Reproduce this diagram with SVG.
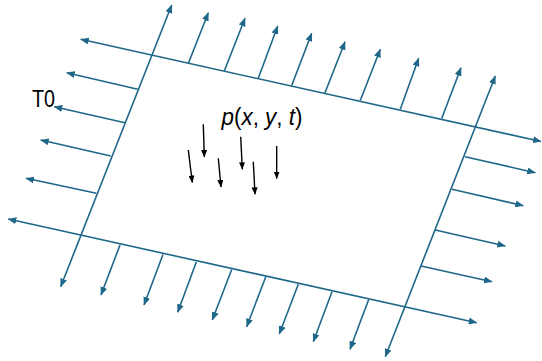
<svg xmlns="http://www.w3.org/2000/svg" width="542" height="361" viewBox="0 0 542 361">
  <style>
    .t { stroke: #1f6789; stroke-width: 1.6; fill: none; }
    .ta { stroke: #1f6789; stroke-width: 1.6; fill: none; marker-end: url(#mt); }
    .tb { stroke: #1f6789; stroke-width: 1.6; fill: none; marker-start: url(#mt); marker-end: url(#mt); }
    .k { stroke: #000; stroke-width: 1.4; fill: none; marker-end: url(#mk); }
    .lbl { font-family: "Liberation Sans", Arial, sans-serif; font-size: 22px; fill: #000; }
  </style>
  <defs>
    <marker id="mt" markerUnits="userSpaceOnUse" markerWidth="9" markerHeight="7" refX="8" refY="3.5" orient="auto-start-reverse" viewBox="0 0 9 7">
      <path d="M0,0 L8.5,3.5 L0,7 z" fill="#1f6789"/>
    </marker>
    <marker id="mk" markerUnits="userSpaceOnUse" markerWidth="8" markerHeight="6" refX="7" refY="3" orient="auto" viewBox="0 0 8 6">
      <path d="M0,0 L7.5,3 L0,6 z" fill="#000"/>
    </marker>
  </defs>

  <g id="frame">
    <line id="edge-top" class="tb" x1="80.7" y1="39.3" x2="541" y2="141.5"/>
    <line id="edge-left" class="tb" x1="171.7" y1="5" x2="60.7" y2="286.7"/>
    <line id="edge-bottom" class="tb" x1="8.3" y1="219" x2="476.7" y2="322.7"/>
    <line id="edge-right" class="tb" x1="495.3" y1="76" x2="385.3" y2="356.7"/>
  </g>

  <g id="connectors">
    <g id="top-arrows">
      <line class="ta" x1="188.3" y1="63.5" x2="208.3" y2="12.7"/>
      <line class="ta" x1="224.3" y1="71" x2="245" y2="18.3"/>
      <line class="ta" x1="258.3" y1="78.3" x2="277.7" y2="26"/>
      <line class="ta" x1="291.7" y1="85.5" x2="311.7" y2="33.3"/>
      <line class="ta" x1="325" y1="92.8" x2="345" y2="41.7"/>
      <line class="ta" x1="360.3" y1="100.5" x2="380.3" y2="49.3"/>
      <line class="ta" x1="400.3" y1="109.2" x2="418.7" y2="58.3"/>
      <line class="ta" x1="441.7" y1="118.5" x2="461" y2="67.7"/>
    </g>
    <g id="left-arrows">
      <line class="ta" x1="137.7" y1="89.3" x2="66.7" y2="72.7"/>
      <line class="ta" x1="125" y1="122.7" x2="54.3" y2="106.7"/>
      <line class="ta" x1="110.7" y1="156" x2="40.7" y2="140"/>
      <line class="ta" x1="96.3" y1="193.3" x2="26" y2="178.3"/>
    </g>
    <g id="bottom-arrows">
      <line class="ta" x1="120" y1="245" x2="101" y2="295"/>
      <line class="ta" x1="163" y1="254.5" x2="144" y2="305"/>
      <line class="ta" x1="196.3" y1="262" x2="177.7" y2="312.3"/>
      <line class="ta" x1="231.7" y1="269.5" x2="212.3" y2="320"/>
      <line class="ta" x1="265.7" y1="277" x2="246.7" y2="326.7"/>
      <line class="ta" x1="298.3" y1="284.3" x2="279.3" y2="334"/>
      <line class="ta" x1="332" y1="291.8" x2="313.3" y2="341.7"/>
      <line class="ta" x1="368.7" y1="299.5" x2="350" y2="349.3"/>
    </g>
    <g id="right-arrows">
      <line class="ta" x1="465" y1="156.7" x2="535.3" y2="172.7"/>
      <line class="ta" x1="452" y1="189.3" x2="523.3" y2="205.7"/>
      <line class="ta" x1="435.3" y1="230" x2="505.3" y2="246"/>
      <line class="ta" x1="421" y1="266" x2="492" y2="281.7"/>
    </g>
    <g id="load-arrows">
      <line class="k" x1="203.3" y1="124.3" x2="204.3" y2="157"/>
      <line class="k" x1="188.3" y1="150" x2="192.3" y2="182.5"/>
      <line class="k" x1="218.3" y1="158.3" x2="221" y2="187"/>
      <line class="k" x1="240.7" y1="136.7" x2="242.3" y2="169.3"/>
      <line class="k" x1="253.3" y1="161.7" x2="255" y2="194.3"/>
      <line class="k" x1="276.7" y1="146" x2="276.7" y2="178.5"/>
    </g>
  </g>

  <g id="label-T0">
    <text class="lbl" x="32" y="106.8" font-size="23" style="font-size:23px" textLength="23" lengthAdjust="spacingAndGlyphs">T0</text>
  </g>
  <g id="label-p">
    <text class="lbl" x="221.5" y="124.5" style="font-size:23px" textLength="81" lengthAdjust="spacingAndGlyphs"><tspan font-style="italic">p</tspan>(<tspan font-style="italic">x</tspan>, <tspan font-style="italic">y</tspan>, <tspan font-style="italic">t</tspan>)</text>
  </g>
</svg>
